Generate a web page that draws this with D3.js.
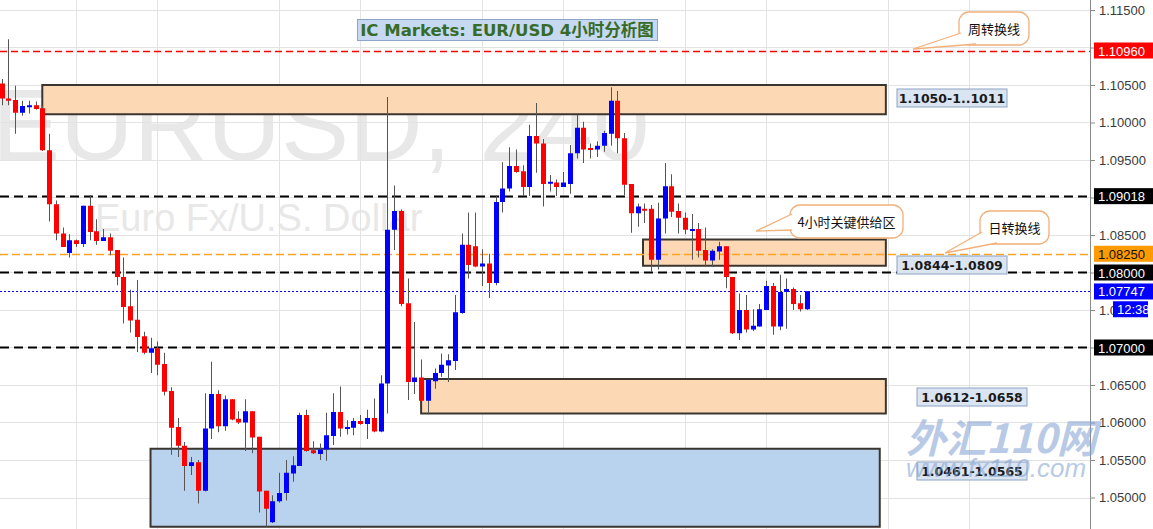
<!DOCTYPE html>
<html>
<head>
<meta charset="utf-8">
<script src="https://cdnjs.cloudflare.com/ajax/libs/d3/7.8.5/d3.min.js"></script>
<style>
body { margin: 0; background: #fff; }
</style>
</head>
<body>
<script>
// EUR/USD 4h candles, oldest first
const opens = [
  1.1052, 1.1032, 1.1030, 1.1013, 1.1021, 1.1023, 1.1019, 1.0963, 1.0891, 1.0852,
  1.0826, 1.0843, 1.0838, 1.0889, 1.0855, 1.0842, 1.0847, 1.0830, 1.0794, 1.0755,
  1.0737, 1.0715, 1.0693, 1.0699, 1.0678, 1.0642, 1.0594, 1.0569, 1.0542, 1.0547,
  1.0509, 1.0592, 1.0638, 1.0595, 1.0631, 1.0605, 1.0600, 1.0615, 1.0581, 1.0509,
  1.0467, 1.0495, 1.0506, 1.0532, 1.0542, 1.0610, 1.0563, 1.0558, 1.0564, 1.0582,
  1.0614, 1.0592, 1.0593, 1.0602, 1.0598, 1.0606, 1.0588, 1.0652, 1.0857, 1.0882,
  1.0759, 1.0654, 1.0660, 1.0629, 1.0655, 1.0666, 1.0676, 1.0682, 1.0746, 1.0837,
  1.0835, 1.0808, 1.0812, 1.0786, 1.0894, 1.0912, 1.0942, 1.0935, 1.0914, 1.0982,
  1.0972, 1.0919, 1.0920, 1.0914, 1.0918, 1.0959, 1.0993, 1.0966, 1.0964, 1.0969,
  1.0985, 1.1029, 1.0979, 1.0918, 1.0879, 1.0885, 1.0885, 1.0817, 1.0872, 1.0915,
  1.0882, 1.0873, 1.0856, 1.0858, 1.0830, 1.0816, 1.0828, 1.0835, 1.0794, 1.0719,
  1.0750, 1.0724, 1.0728, 1.0750, 1.0782, 1.0728, 1.0774, 1.0778, 1.0759, 1.0751
];
const highs = [
  1.1058, 1.1111, 1.1049, 1.1029, 1.1029, 1.1028, 1.1022, 1.0985, 1.0896, 1.0860,
  1.0851, 1.0844, 1.0889, 1.0903, 1.0871, 1.0858, 1.0852, 1.0830, 1.0820, 1.0777,
  1.0790, 1.0721, 1.0713, 1.0708, 1.0693, 1.0647, 1.0606, 1.0574, 1.0554, 1.0550,
  1.0639, 1.0681, 1.0643, 1.0636, 1.0631, 1.0615, 1.0631, 1.0615, 1.0581, 1.0509,
  1.0503, 1.0533, 1.0550, 1.0555, 1.0613, 1.0617, 1.0575, 1.0572, 1.0613, 1.0639,
  1.0648, 1.0603, 1.0606, 1.0610, 1.0617, 1.0632, 1.0663, 1.1034, 1.0916, 1.0884,
  1.0792, 1.0734, 1.0684, 1.0657, 1.0672, 1.0692, 1.0691, 1.0770, 1.0852, 1.0880,
  1.0880, 1.0831, 1.0825, 1.0903, 1.0947, 1.0967, 1.0964, 1.0943, 1.0997, 1.1026,
  1.0978, 1.0930, 1.0924, 1.0934, 1.0970, 1.1010, 1.1001, 1.0972, 1.0975, 1.0989,
  1.1047, 1.1042, 1.0986, 1.0918, 1.0892, 1.0892, 1.0890, 1.0893, 1.0946, 1.0931,
  1.0892, 1.0880, 1.0878, 1.0866, 1.0860, 1.0831, 1.0841, 1.0835, 1.0794, 1.0772,
  1.0770, 1.0751, 1.0758, 1.0789, 1.0786, 1.0797, 1.0792, 1.0780, 1.0770, 1.0775
];
const lows = [
  1.1023, 1.1023, 1.0985, 1.1009, 1.1012, 1.1017, 1.0962, 1.0868, 1.0843, 1.0834,
  1.0820, 1.0834, 1.0834, 1.0843, 1.0837, 1.0842, 1.0823, 1.0783, 1.0732, 1.0720,
  1.0694, 1.0691, 1.0666, 1.0663, 1.0636, 1.0557, 1.0554, 1.0509, 1.0530, 1.0492,
  1.0508, 1.0578, 1.0587, 1.0589, 1.0603, 1.0598, 1.0562, 1.0559, 1.0480, 1.0461,
  1.0466, 1.0493, 1.0496, 1.0521, 1.0542, 1.0561, 1.0558, 1.0550, 1.0549, 1.0570,
  1.0581, 1.0584, 1.0583, 1.0597, 1.0578, 1.0587, 1.0587, 1.0612, 1.0830, 1.0755,
  1.0630, 1.0638, 1.0629, 1.0611, 1.0645, 1.0661, 1.0654, 1.0670, 1.0745, 1.0792,
  1.0807, 1.0782, 1.0766, 1.0783, 1.0880, 1.0908, 1.0933, 1.0902, 1.0902, 1.0933,
  1.0888, 1.0908, 1.0902, 1.0914, 1.0905, 1.0952, 1.0946, 1.0952, 1.0954, 1.0961,
  1.0969, 1.0959, 1.0903, 1.0853, 1.0861, 1.0866, 1.0801, 1.0804, 1.0852, 1.0874,
  1.0852, 1.0851, 1.0817, 1.0820, 1.0808, 1.0808, 1.0817, 1.0779, 1.0718, 1.0710,
  1.0720, 1.0722, 1.0728, 1.0750, 1.0717, 1.0723, 1.0725, 1.0750, 1.0748, 1.0750
];
const closes = [
  1.1032, 1.1029, 1.1013, 1.1022, 1.1023, 1.1018, 1.0963, 1.0891, 1.0852, 1.0834,
  1.0843, 1.0838, 1.0889, 1.0854, 1.0842, 1.0847, 1.0829, 1.0794, 1.0754, 1.0736,
  1.0714, 1.0693, 1.0699, 1.0677, 1.0641, 1.0593, 1.0569, 1.0542, 1.0547, 1.0509,
  1.0592, 1.0638, 1.0595, 1.0631, 1.0604, 1.0600, 1.0615, 1.0580, 1.0508, 1.0485,
  1.0495, 1.0506, 1.0533, 1.0543, 1.0610, 1.0562, 1.0559, 1.0564, 1.0583, 1.0614,
  1.0592, 1.0594, 1.0602, 1.0598, 1.0606, 1.0588, 1.0652, 1.0857, 1.0882, 1.0758,
  1.0654, 1.0660, 1.0629, 1.0657, 1.0666, 1.0677, 1.0683, 1.0747, 1.0837, 1.0810,
  1.0808, 1.0812, 1.0786, 1.0894, 1.0912, 1.0942, 1.0934, 1.0914, 1.0982, 1.0972,
  1.0918, 1.0921, 1.0914, 1.0920, 1.0959, 1.0993, 1.0964, 1.0964, 1.0969, 1.0986,
  1.1029, 1.0979, 1.0917, 1.0879, 1.0888, 1.0884, 1.0817, 1.0872, 1.0915, 1.0881,
  1.0873, 1.0857, 1.0858, 1.0829, 1.0816, 1.0829, 1.0835, 1.0794, 1.0719, 1.0750,
  1.0724, 1.0729, 1.0751, 1.0782, 1.0728, 1.0774, 1.0778, 1.0758, 1.0751, 1.0775
];

// price axis ticks
const yTicks = [1.050, 1.055, 1.060, 1.065, 1.070, 1.075, 1.080, 1.085, 1.090, 1.095, 1.100, 1.105, 1.110, 1.115];
// candle indexes where the vertical time grid falls
const gridIdx = [11, 23, 41, 53, 71, 83, 101, 113, 131, 143];

// horizontal key levels
const levelPrices = [1.1096, 1.09018, 1.0825, 1.08, 1.07747, 1.07];
const levelKinds = ["weekly", "round", "daily", "round", "last", "round"];

// zones (candle index where each box starts / ends)
const zoneHigh = [1.1050, 1.0844, 1.0658, 1.0565];
const zoneLow = [1.1011, 1.0809, 1.0612, 1.0461];
const zoneFrom = [6, 94.8, 62, 22];
const zoneTo = [130.7, 130.7, 130.7, 129.8];
const zoneKinds = ["supply", "supply", "supply", "demand"];
const zoneLabels = ["1.1050-1..1011", "1.0844-1.0809", "1.0612-1.0658", "1.0461-1.0565"];

const W = 1153, H = 529, axisX = 1090;
const cjk = "'Noto Sans CJK SC', 'DejaVu Sans', sans-serif";

const svg = d3.select("body").append("svg")
    .attr("width", W)
    .attr("height", H)
    .style("display", "block")
    .style("font-family", "'Liberation Sans', Arial, sans-serif");

const x = d3.scaleLinear().domain([0, opens.length - 1]).range([1.7, 806.7]);
const y = d3.scaleLinear().domain([1.05, 1.115]).range([497.5, 10]);

// big symbol watermark
svg.append("text")
    .attr("x", -8).attr("y", 160)
    .attr("font-size", 102)
    .attr("fill", "#e8e8e8")
    .text("EURUSD, 240");
svg.append("text")
    .attr("x", 95).attr("y", 231)
    .attr("font-size", 38)
    .attr("fill", "#e8e8e8")
    .text("Euro Fx/U.S. Dollar");

// grid
const grid = svg.append("g").attr("stroke", "#e3e3e3").attr("stroke-width", 1);
grid.selectAll("line.h").data(yTicks).join("line")
    .attr("class", "h")
    .attr("x1", 0).attr("x2", axisX)
    .attr("y1", d => Math.round(y(d)) + 0.5).attr("y2", d => Math.round(y(d)) + 0.5);
grid.selectAll("line.v").data(gridIdx).join("line")
    .attr("class", "v")
    .attr("x1", d => Math.round(x(d)) + 0.5).attr("x2", d => Math.round(x(d)) + 0.5)
    .attr("y1", 0).attr("y2", H);

// zones
const zoneFill = { supply: "#fcd9b4", demand: "#b9d3ee" };
svg.append("g").selectAll("rect").data(zoneHigh).join("rect")
    .attr("x", (d, i) => x(zoneFrom[i]))
    .attr("y", d => y(d))
    .attr("width", (d, i) => x(zoneTo[i]) - x(zoneFrom[i]))
    .attr("height", (d, i) => y(zoneLow[i]) - y(d))
    .attr("fill", (d, i) => zoneFill[zoneKinds[i]])
    .attr("stroke", "#3b3530")
    .attr("stroke-width", 2);

// key levels
const levelStyle = {
  weekly: { stroke: "#ff0000", width: 1.5, dash: "7,4", tag: "#ff0000", text: "#fff" },
  round:  { stroke: "#000000", width: 2,   dash: "9,5", tag: "#000000", text: "#fff" },
  daily:  { stroke: "#ffa21f", width: 1.5, dash: "8,4", tag: "#ff9a00", text: "#111" },
  last:   { stroke: "#0000ff", width: 1,   dash: "2,2", tag: "#0000ff", text: "#fff" }
};
svg.append("g").selectAll("line").data(levelPrices).join("line")
    .attr("x1", 0).attr("x2", axisX)
    .attr("y1", d => Math.round(y(d)) + 0.5).attr("y2", d => Math.round(y(d)) + 0.5)
    .attr("stroke", (d, i) => levelStyle[levelKinds[i]].stroke)
    .attr("stroke-width", (d, i) => levelStyle[levelKinds[i]].width)
    .attr("stroke-dasharray", (d, i) => levelStyle[levelKinds[i]].dash);

// candles
const idx = d3.range(opens.length);
const candles = svg.append("g");
candles.selectAll("line").data(idx).join("line")
    .attr("x1", i => Math.round(x(i)) + 0.5).attr("x2", i => Math.round(x(i)) + 0.5)
    .attr("y1", i => y(highs[i])).attr("y2", i => y(lows[i]))
    .attr("stroke", "#555")
    .attr("stroke-width", 1);
candles.selectAll("rect").data(idx).join("rect")
    .attr("x", i => Math.round(x(i)) - 2)
    .attr("y", i => y(Math.max(opens[i], closes[i])))
    .attr("width", 5)
    .attr("height", i => Math.max(2, Math.abs(y(opens[i]) - y(closes[i]))))
    .attr("fill", i => closes[i] >= opens[i] ? "#0000ff" : "#ff0000");

// price axis
const axis = svg.append("g")
    .attr("transform", `translate(${axisX},0)`)
    .call(d3.axisRight(y).tickValues(yTicks).tickFormat(d3.format(".5f")).tickSize(5).tickPadding(4));
axis.select(".domain").attr("stroke", "#8a8a8a").attr("d", `M0.5,0V${H}`);
axis.selectAll(".tick line").attr("stroke", "#8a8a8a");
axis.selectAll(".tick text")
    .attr("font-size", 13)
    .attr("fill", "#3a3a3a")
    .attr("font-family", "'Liberation Sans', Arial, sans-serif");

// level tags on the axis
const tags = svg.append("g").selectAll("g").data(levelPrices).join("g")
    .attr("transform", d => `translate(${axisX + 4},${y(d)})`);
tags.append("rect")
    .attr("x", 0).attr("y", -8)
    .attr("width", W - axisX - 4).attr("height", 16)
    .attr("fill", (d, i) => levelStyle[levelKinds[i]].tag);
tags.append("text")
    .attr("x", 4).attr("y", 5)
    .attr("font-size", 13)
    .attr("fill", (d, i) => levelStyle[levelKinds[i]].text)
    .text(d => d3.format(".5f")(d));

// bar countdown under the last price
const lastY = y(closes[closes.length - 1]);
svg.append("rect")
    .attr("x", 1113).attr("y", lastY + 10)
    .attr("width", 35).attr("height", 16)
    .attr("fill", "#0000ff");
svg.append("text")
    .attr("x", 1117).attr("y", lastY + 23)
    .attr("font-size", 13)
    .attr("fill", "#fff")
    .text("12:38");

// zone labels
const zoneLabelPos = [[897, 98], [897, 265], [917, 397], [917, 471]];
const labels = svg.append("g").selectAll("g").data(zoneLabels).join("g")
    .attr("transform", (d, i) => `translate(${zoneLabelPos[i][0]},${zoneLabelPos[i][1]})`);
labels.append("rect")
    .attr("x", 0).attr("y", -9)
    .attr("width", 110).attr("height", 18)
    .attr("fill", "#dbe5f1")
    .attr("stroke", "#8ba4c4")
    .attr("stroke-width", 1);
labels.append("text")
    .attr("x", 55).attr("y", 5)
    .attr("text-anchor", "middle")
    .attr("font-family", "'DejaVu Sans', Verdana, sans-serif")
    .attr("font-weight", "bold")
    .attr("font-size", 12.5)
    .attr("fill", "#1a1a1a")
    .text(d => d);

// callouts
function callout(box, label, tip, b1, b2) {
  const g = svg.append("g");
  g.append("rect")
      .attr("x", box[0]).attr("y", box[1])
      .attr("width", box[2]).attr("height", box[3])
      .attr("rx", 10)
      .attr("fill", "#fff")
      .attr("stroke", "#f2b07a")
      .attr("stroke-width", 1.3);
  g.append("path")
      .attr("d", `M${b1[0]},${b1[1]}L${tip[0]},${tip[1]}L${b2[0]},${b2[1]}`)
      .attr("fill", "#fff")
      .attr("stroke", "#f2b07a")
      .attr("stroke-width", 1.3);
  g.append("text")
      .attr("x", box[0] + box[2] / 2).attr("y", box[1] + box[3] / 2 + 5)
      .attr("text-anchor", "middle")
      .attr("font-family", cjk)
      .attr("font-size", 13)
      .attr("fill", "#111")
      .text(label);
}
callout([959, 12, 70, 33], "周转换线", [913, 49], [961, 33], [976, 44]);
callout([980, 211, 69, 33], "日转换线", [945, 253], [982, 232], [997, 243]);
callout([790, 205, 113, 33], "4小时关键供给区", [756, 231], [792, 214], [792, 230]);

// title
svg.append("rect")
    .attr("x", 357.5).attr("y", 19.5)
    .attr("width", 300).attr("height", 21)
    .attr("fill", "#c6d9f0")
    .attr("stroke", "#8aa5c8");
svg.append("text")
    .attr("x", 507).attr("y", 36)
    .attr("text-anchor", "middle")
    .attr("font-family", "'DejaVu Sans', 'Noto Sans CJK SC', sans-serif")
    .attr("font-weight", "bold")
    .attr("font-size", 16.5)
    .attr("fill", "#376b27")
    .text("IC Markets: EUR/USD 4小时分析图");

// site watermark
const wm = svg.append("g").attr("opacity", 0.55).attr("fill", "#7f9fd2");
wm.append("text")
    .attr("x", 906).attr("y", 453)
    .attr("font-family", cjk)
    .attr("font-weight", "bold")
    .attr("font-style", "italic")
    .attr("font-size", 40)
    .text("外汇110网");
wm.append("text")
    .attr("x", 906).attr("y", 477)
    .attr("font-style", "italic")
    .attr("font-size", 26)
    .text("www.fx110.com");
</script>
</body>
</html>
